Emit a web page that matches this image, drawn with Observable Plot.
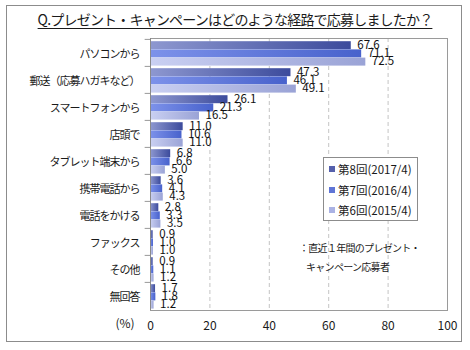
<!DOCTYPE html>
<html><head><meta charset="utf-8">
<script src="https://cdn.jsdelivr.net/npm/d3@7"></script>
<script src="https://cdn.jsdelivr.net/npm/@observablehq/plot@0.6"></script>
<style>
body{margin:0;background:#fff;font-family:"Noto Sans CJK JP","Noto Sans",sans-serif;}
#wrap{position:relative;width:470px;height:350px;overflow:hidden;}
#wrap svg{position:absolute;left:0;top:0;}
#wrap svg [aria-label="y-axis tick label"] text{letter-spacing:-1px;}
.border{position:absolute;left:6px;top:5px;width:456px;height:337px;border:1.5px solid #8c8c8c;box-sizing:border-box;}
.title{position:absolute;left:0;width:470px;top:9px;text-align:center;font-size:14px;letter-spacing:-0.8px;color:#1a1a1a;}
.title span{text-decoration:underline;text-underline-offset:3px;}
.legend{position:absolute;left:323px;top:157px;width:95px;height:64px;border:1px solid #8c8c8c;background:#fff;box-sizing:border-box;font-size:11.5px;color:#1a1a1a;}
.legend div{position:absolute;left:5px;display:flex;align-items:center;white-space:nowrap;}
.legend i{display:inline-block;width:6px;height:6px;margin-right:3px;}
.note{position:absolute;left:299px;font-size:10px;letter-spacing:-0.7px;color:#1a1a1a;white-space:nowrap;}
</style></head>
<body><div id="wrap"><div class="border"></div></div>
<script>
const categories = ["パソコンから","郵送（応募ハガキなど）","スマートフォンから","店頭で","タブレット端末から","携帯電話から","電話をかける","ファックス","その他","無回答"];
const seriesNames = ["第8回(2017/4)","第7回(2016/4)","第6回(2015/4)"];
const s8 = [67.6,47.3,26.1,11.0,6.8,3.6,2.8,0.9,0.9,1.7];
const s7 = [71.1,46.1,21.3,10.6,6.6,4.1,3.3,1.0,1.1,1.8];
const s6 = [72.5,49.1,16.5,11.0,5.0,4.3,3.5,1.0,1.2,1.2];
const xTicks = [0,20,40,60,80,100];
const titleText = "Q.プレゼント・キャンペーンはどのような経路で応募しましたか？";
const noteLines = ["：直近１年間のプレゼント・","キャンペーン応募者"];

const seriesValues = [s8,s7,s6];
const legendColors = ["#5560ac","#5f75d6","#aab2e4"];
const fills = ["url(#g8)","url(#g7)","url(#g6)"];
const data = seriesNames.flatMap((s,i)=>categories.map((c,j)=>({cat:c,series:s,si:i,value:seriesValues[i][j]})));

const plotTop = 38, plotBottom = 310;
const band = (plotBottom-plotTop)/categories.length;
const off = 2.2, bh = 8.2;
const textDy = [-7.5,0.5,8.2];

const marks = [
  Plot.gridX(xTicks.filter(t=>t>0&&t<100),{stroke:"#c4c4c4",strokeOpacity:1,strokeDasharray:"4,3"}),
];
seriesNames.forEach((s,i)=>{
  marks.push(Plot.barX(data.filter(d=>d.si===i),{x:"value",y:"cat",fill:fills[i],
    insetTop:off+i*bh, insetBottom:band-off-(i+1)*bh}));
});
seriesNames.forEach((s,i)=>{
  marks.push(Plot.text(data.filter(d=>d.si===i),{x:"value",y:"cat",text:d=>d.value.toFixed(1),
    dx:6,dy:textDy[i],textAnchor:"start",fontSize:11.5,fill:"#111"}));
});
marks.push(
  Plot.ruleY(categories,{y:d=>d,x1:-1.8,x2:0,dy:-band/2,stroke:"#999"}),
  Plot.frame({stroke:"#9a9a9a"}),
  Plot.ruleX([0],{stroke:"#8a8a8a"}),
  Plot.axisX({ticks:xTicks,tickSize:0,tickPadding:11,fontSize:12,label:null,tickFormat:d=>String(d)}),
  Plot.axisY({tickSize:0,tickPadding:11,fontSize:11,dy:1.2,label:null}),
  Plot.text(["(%)"],{x:-8.6,frameAnchor:"bottom",dy:17,fontSize:12,fill:"#1a1a1a"})
);

const chart = Plot.plot({
  width:470,height:350,
  marginLeft:150,marginRight:23,marginTop:plotTop,marginBottom:350-plotBottom,
  x:{domain:[0,100],label:null,axis:null},
  y:{domain:categories,padding:0,label:null,axis:null},
  style:{fontFamily:'"Noto Sans CJK JP","Noto Sans",sans-serif',color:"#1a1a1a",background:"transparent",overflow:"visible"},
  marks
});

const svg = d3.select(chart);
const defs = svg.insert("defs",":first-child");
const grads = [["g8","#8e98d0","#3c4b9c"],["g7","#7d92ea","#4862cc"],["g6","#cad0f2","#9aa3d6"]];
grads.forEach(([id,a,b])=>{
  const g = defs.append("linearGradient").attr("id",id).attr("x1","0").attr("x2","1").attr("y1","0").attr("y2","0");
  g.append("stop").attr("offset","0").attr("stop-color",a);
  g.append("stop").attr("offset","1").attr("stop-color",b);
});

const wrap = document.getElementById("wrap");
wrap.appendChild(chart);

const t = document.createElement("div");
t.className="title"; t.innerHTML = "<span></span>"; t.firstChild.textContent = titleText;
wrap.appendChild(t);

const lg = document.createElement("div"); lg.className="legend";
seriesNames.forEach((s,i)=>{
  const r = document.createElement("div");
  r.style.top = (3+i*20.5)+"px";
  const sw = document.createElement("i"); sw.style.background = legendColors[i];
  r.appendChild(sw); r.appendChild(document.createTextNode(s));
  lg.appendChild(r);
});
wrap.appendChild(lg);

noteLines.forEach((l,i)=>{
  const n = document.createElement("div"); n.className="note";
  n.style.top = (240+i*19)+"px"; if(i===1) n.style.left="306px";
  n.textContent = l; wrap.appendChild(n);
});
</script></body></html>
